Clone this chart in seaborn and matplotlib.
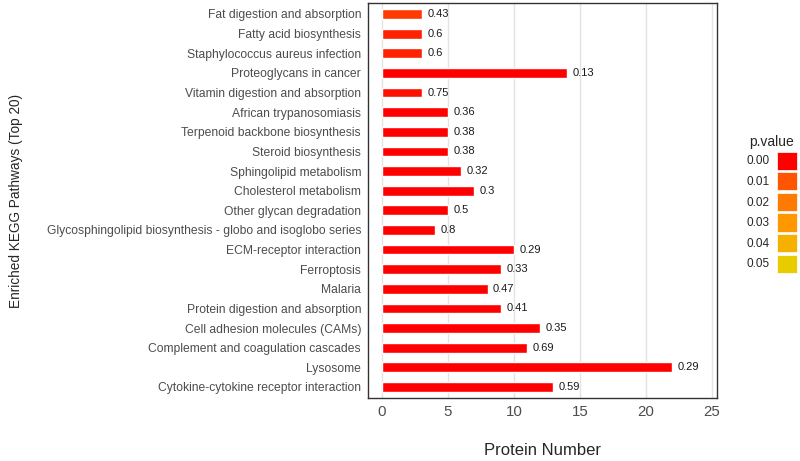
import numpy as np
import pandas as pd
import matplotlib
matplotlib.use("Agg")
import matplotlib.pyplot as plt
import seaborn as sns
from matplotlib.colors import LinearSegmentedColormap
from matplotlib.patches import Patch

# Data (top to bottom)
pathways = [
    "Fat digestion and absorption",
    "Fatty acid biosynthesis",
    "Staphylococcus aureus infection",
    "Proteoglycans in cancer",
    "Vitamin digestion and absorption",
    "African trypanosomiasis",
    "Terpenoid backbone biosynthesis",
    "Steroid biosynthesis",
    "Sphingolipid metabolism",
    "Cholesterol metabolism",
    "Other glycan degradation",
    "Glycosphingolipid biosynthesis - globo and isoglobo series",
    "ECM-receptor interaction",
    "Ferroptosis",
    "Malaria",
    "Protein digestion and absorption",
    "Cell adhesion molecules (CAMs)",
    "Complement and coagulation cascades",
    "Lysosome",
    "Cytokine-cytokine receptor interaction",
]
protein_number = [3, 3, 3, 14, 3, 5, 5, 5, 6, 7, 5, 4, 10, 9, 8, 9, 12, 11, 22, 13]
bar_labels = ["0.43", "0.6", "0.6", "0.13", "0.75", "0.36", "0.38", "0.38", "0.32", "0.3",
              "0.5", "0.8", "0.29", "0.33", "0.47", "0.41", "0.35", "0.69", "0.29", "0.59"]
p_values = [0.007, 0.004, 0.004, 0.0, 0.002, 0.0, 0.0, 0.0, 0.0, 0.0,
            0.0, 0.0, 0.0, 0.0, 0.0, 0.0, 0.0, 0.0, 0.0, 0.0]

legend_ticks = ["0.00", "0.01", "0.02", "0.03", "0.04", "0.05"]
legend_colors = ["#FF0000", "#FF5500", "#FF7A00", "#FF9700", "#F5B000", "#E8CC00"]

df = pd.DataFrame({"Pathway": pathways, "Count": protein_number,
                   "Label": bar_labels, "p": p_values})

cmap = LinearSegmentedColormap.from_list("pval", legend_colors)
bar_colors = [cmap(p / 0.05) for p in df["p"]]

sns.set_style("white")
plt.rcParams["font.family"] = ["Liberation Sans", "DejaVu Sans"]

fig = plt.figure(figsize=(8, 4.61), dpi=100)
ax = fig.add_axes([0.46, 0.1367, 0.436, 0.8568])

ax.set_axisbelow(True)
ax.grid(True, color="#E3E3E3", linewidth=1.0)

sns.barplot(data=df, y="Pathway", x="Count", hue="Pathway", palette=bar_colors,
            order=pathways, hue_order=pathways, legend=False, width=0.5,
            saturation=1, ax=ax)

for i, row in df.iterrows():
    ax.annotate(row["Label"], xy=(row["Count"], i), xytext=(4, 0),
                textcoords="offset points", va="center", ha="left",
                fontsize=8, color="#1A1A1A")

ax.set_xlim(-1.07, 25.4)
ax.set_ylim(len(pathways) - 0.44, -0.56)
ax.set_xticks([0, 5, 10, 15, 20, 25])
ax.tick_params(axis="both", length=3, width=0.8, color="#333333",
               labelcolor="#4D4D4D", pad=2)
ax.tick_params(axis="y", labelsize=8.7)
ax.tick_params(axis="x", labelsize=10.8)
for s in ax.spines.values():
    s.set_color("#333333")
    s.set_linewidth(1.0)

ax.set_xlabel("Protein Number", fontsize=12)
ax.xaxis.set_label_coords(0.5, -0.115)
ax.set_ylabel("Enriched KEGG Pathways (Top 20)", fontsize=9.8)
ax.yaxis.set_label_coords(-0.99, 0.5)

handles = [Patch(facecolor=c, edgecolor="white", linewidth=0.5) for c in legend_colors]
fig.legend(handles, legend_ticks, title="p.value", loc="upper left",
           bbox_to_anchor=(0.927, 0.717), frameon=False, markerfirst=False,
           fontsize=8.5, title_fontsize=10, handlelength=1.75, handleheight=2.0,
           labelspacing=0.2, handletextpad=0.6, borderaxespad=0)

fig.savefig("out.png", dpi=100)
